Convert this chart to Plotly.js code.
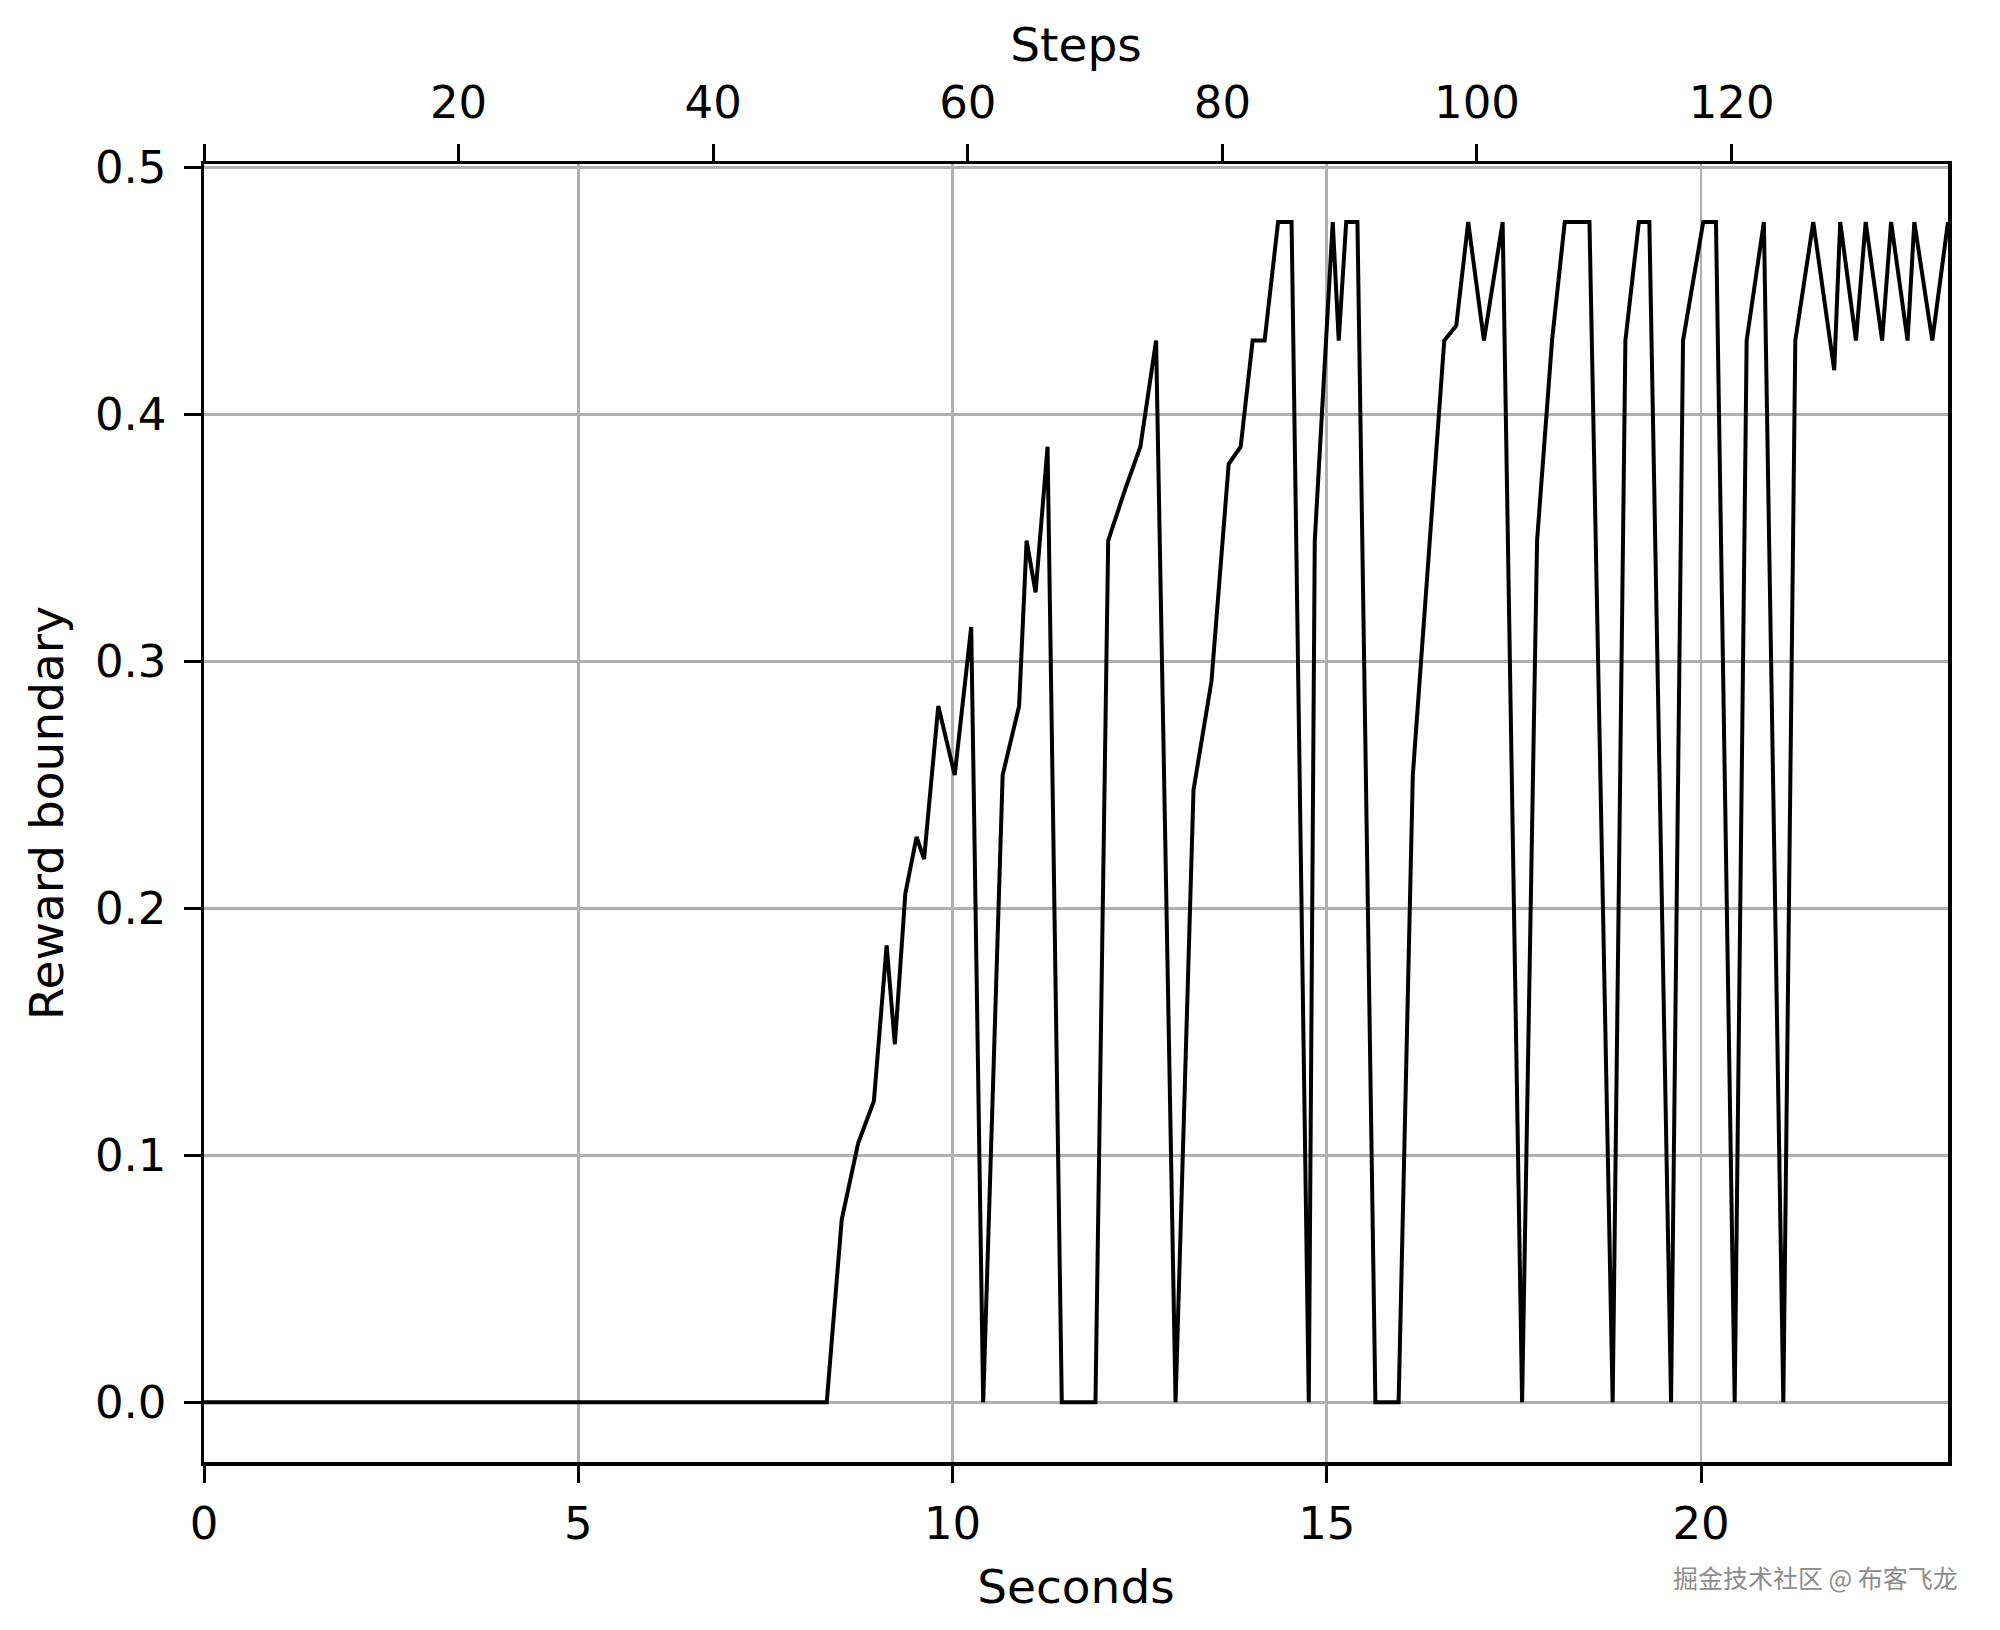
<!DOCTYPE html>
<html>
<head>
<meta charset="utf-8">
<script src="https://cdn.plot.ly/plotly-3.0.1.min.js"></script>
<style>html,body{margin:0;padding:0;background:#fff;}</style>
</head>
<body>
<div id="chart" style="width:2000px;height:1630px;"></div>
<script>
// Seconds (bottom axis) for each point of the line
const seconds = [0, 8.32, 8.52, 8.74, 8.95, 9.12, 9.23, 9.37, 9.52, 9.62, 9.81, 10.03, 10.25, 10.41,
  10.67, 10.89, 10.99, 11.11, 11.27, 11.46, 11.91, 12.08, 12.31, 12.51, 12.72, 12.98, 13.22, 13.46,
  13.69, 13.85, 14.01, 14.17, 14.35, 14.53, 14.76, 14.84, 15.08, 15.16, 15.26, 15.41, 15.65, 15.96,
  16.15, 16.57, 16.73, 16.89, 17.10, 17.35, 17.61, 17.81, 18.01, 18.18, 18.51, 18.82, 18.99, 19.17,
  19.31, 19.60, 19.76, 20.03, 20.20, 20.45, 20.61, 20.84, 21.10, 21.26, 21.50, 21.78, 21.86, 22.07,
  22.20, 22.42, 22.54, 22.76, 22.85, 23.09, 23.30];
// Reward boundary values
const reward = [0, 0, 0.074, 0.105, 0.122, 0.185, 0.145, 0.206, 0.229, 0.220, 0.282, 0.254, 0.314, 0,
  0.254, 0.282, 0.349, 0.328, 0.387, 0, 0, 0.349, 0.370, 0.387, 0.430, 0, 0.248, 0.292,
  0.380, 0.387, 0.430, 0.430, 0.478, 0.478, 0, 0.349, 0.478, 0.430, 0.478, 0.478, 0, 0,
  0.254, 0.430, 0.436, 0.478, 0.430, 0.478, 0, 0.349, 0.430, 0.478, 0.478, 0, 0.430, 0.478,
  0.478, 0, 0.430, 0.478, 0.478, 0, 0.430, 0.478, 0, 0.430, 0.478, 0.418, 0.478, 0.430,
  0.478, 0.430, 0.478, 0.430, 0.478, 0.430, 0.478];
// Tick labels
const secondTicks = [0, 5, 10, 15, 20];
const stepTicks = [0, 20, 40, 60, 80, 100, 120];
const stepTickText = ['', '20', '40', '60', '80', '100', '120'];
const rewardTicks = [0.0, 0.1, 0.2, 0.3, 0.4, 0.5];
const secondsRange = [0, 23.3];
const stepsRange = [0, 137];
const rewardRange = [-0.0242, 0.5015];

const FONT = 'DejaVu Sans';
const tickFont = {family: FONT, size: 45, color: '#000'};
const titleFont = {family: FONT, size: 47, color: '#000'};

const trace = {
  x: seconds, y: reward, type: 'scatter', mode: 'lines',
  line: {color: '#000', width: 4}, xaxis: 'x', yaxis: 'y', hoverinfo: 'skip'
};
// invisible helper trace so the top "Steps" axis is drawn (draws nothing)
const stepsAxisTrace = {
  x: stepsRange, y: [null, null], type: 'scatter', mode: 'lines',
  xaxis: 'x2', yaxis: 'y', hoverinfo: 'skip', showlegend: false,
  line: {color: 'rgba(0,0,0,0)', width: 0}
};

const layout = {
  width: 2000, height: 1630,
  paper_bgcolor: '#fff', plot_bgcolor: '#fff',
  margin: {l: 204, r: 52, t: 164, b: 168, pad: 0},
  showlegend: false,
  font: {family: FONT, color: '#000'},
  xaxis: {
    range: secondsRange, tickmode: 'array', tickvals: secondTicks,
    showgrid: true, gridcolor: '#b0b0b0', gridwidth: 2.8, zeroline: false,
    ticks: 'outside', ticklen: 17, tickwidth: 3, tickcolor: '#000',
    showline: true, linecolor: '#000', linewidth: 3.5, mirror: false,
    tickfont: tickFont, ticklabelstandoff: 2,
    title: {text: 'Seconds', font: titleFont, standoff: 22}
  },
  xaxis2: {
    overlaying: 'x', side: 'top', anchor: 'y',
    range: stepsRange, tickmode: 'array', tickvals: stepTicks, ticktext: stepTickText,
    showgrid: false, zeroline: false,
    ticks: 'outside', ticklen: 17, tickwidth: 3, tickcolor: '#000',
    showline: true, linecolor: '#000', linewidth: 3.5,
    tickfont: tickFont, ticklabelstandoff: 8,
    title: {text: 'Steps', font: titleFont, standoff: 0}
  },
  yaxis: {
    range: rewardRange, tickmode: 'array', tickvals: rewardTicks, tickformat: '.1f',
    showgrid: true, gridcolor: '#b0b0b0', gridwidth: 3, zeroline: false,
    ticks: 'outside', ticklen: 17, tickwidth: 3, tickcolor: '#000',
    showline: true, linecolor: '#000', linewidth: 3.5, mirror: true,
    tickfont: tickFont, ticklabelstandoff: 8,
    title: {text: 'Reward boundary', font: titleFont, standoff: 17}
  },
  annotations: [{
    text: '掘金技术社区 @ 布客飞龙', xref: 'paper', yref: 'paper',
    x: 1.0069, y: -0.0885, xanchor: 'right', yanchor: 'middle', showarrow: false,
    font: {family: 'Noto Sans CJK SC', size: 25, color: '#8c8c8c'}
  }]
};

Plotly.newPlot('chart', [trace, stepsAxisTrace], layout, {staticPlot: true, displayModeBar: false});
</script>
</body>
</html>
